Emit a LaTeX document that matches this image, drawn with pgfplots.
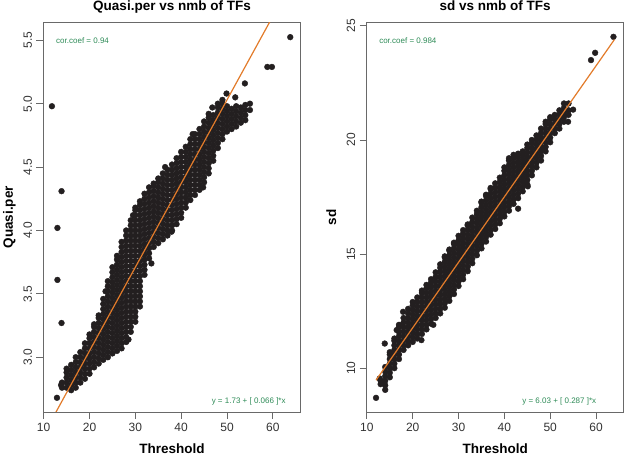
\documentclass[border=0pt]{standalone}
\usepackage{fontspec}
\setmainfont{Liberation Sans}
\usepackage{pgfplots}
\pgfplotsset{compat=1.18}
\definecolor{pt}{RGB}{35,31,32}
\definecolor{fit}{RGB}{226,123,42}
\definecolor{cc}{RGB}{46,139,87}
\definecolor{ax}{RGB}{105,105,105}
\pgfplotsset{rstyle/.style={
  scale only axis, width=257.4bp, height=389.3bp,
  axis line style={ax, line width=0.9bp},
  tick align=outside, major tick length=7bp, tick pos=left,
  every tick/.style={ax, line width=0.9bp},
  xtick={10,20,30,40,50,60},
  xticklabels={10,20,30,40,50,60},
  xmin=9.92, xmax=66.08,
  /pgf/number format/assume math mode=true,
  tick label style={font=\fontsize{12bp}{14bp}\selectfont, text=black!80},
  xticklabel style={anchor=north, inner sep=0pt, yshift=-3.8bp},
  yticklabel style={xshift=-4bp, rotate=90, anchor=south, inner sep=0pt},
  title style={font=\bfseries\fontsize{13.5bp}{16bp}\selectfont, at={(axis description cs:0.5,1)}, anchor=base, yshift=6bp},
  xlabel style={font=\bfseries\fontsize{13.5bp}{16bp}\selectfont, at={(axis description cs:0.5,0)}, anchor=base, yshift=-41.3bp},
  ylabel style={font=\bfseries\fontsize{13.5bp}{16bp}\selectfont, at={(axis description cs:-0.1184,0.5)}, anchor=base},
  clip marker paths=true,
}}
\begin{document}
\begin{tikzpicture}[x=1bp,y=1bp]
\useasboundingbox (0,0) rectangle (624,455);
\begin{axis}[rstyle, at={(43.3bp,43bp)}, anchor=south west,
  ymin=2.568, ymax=5.639,
  ytick={3,3.5,4,4.5,5,5.5}, yticklabels={3.0,3.5,4.0,4.5,5.0,5.5},
  title={Quasi.per vs nmb of TFs}, xlabel={Threshold}, ylabel={Quasi.per}]
\addplot[only marks, mark=*, mark size=2.9bp, color=pt] coordinates {
(11.8,4.98)(13.9,4.31)(13,4.02)(13,3.61)(13.9,3.27)(12.9,2.68)(13.8,2.78)
(14,2.76)(14,2.80)
(15,2.76)(15,2.80)(15,2.84)(15,2.88)(15,2.91)
(16,2.74)(16,2.78)(16,2.82)(16,2.86)(16,2.90)(16,2.94)
(17,2.76)(17,2.80)(17,2.84)(17,2.88)(17,2.92)(17,2.96)(17,3.00)
(18,2.80)(18,2.84)(18,2.88)(18,2.92)(18,2.96)(18,3.00)(18,3.04)
(19,2.83)(19,2.87)(19,2.91)(19,2.95)(19,2.99)(19,3.03)(19,3.07)(19,3.11)
(20,2.87)(20,2.91)(20,2.95)(20,2.99)(20,3.03)(20,3.07)(20,3.11)(20,3.15)(20,3.18)
(21,2.92)(21,2.96)(21,3.00)(21,3.04)(21,3.08)(21,3.12)(21,3.16)(21,3.20)(21,3.24)(21,3.26)
(22,2.95)(22,2.99)(22,3.03)(22,3.07)(22,3.11)(22,3.15)(22,3.19)(22,3.23)(22,3.27)(22,3.31)(22,3.33)
(23,2.98)(23,3.02)(23,3.06)(23,3.10)(23,3.14)(23,3.18)(23,3.22)(23,3.26)(23,3.30)(23,3.34)(23,3.38)(23,3.42)(23,3.46)
(24,3.00)(24,3.04)(24,3.08)(24,3.12)(24,3.16)(24,3.20)(24,3.24)(24,3.28)(24,3.32)(24,3.36)(24,3.40)(24,3.44)(24,3.48)(24,3.52)(24,3.56)(24,3.60)
(25,3.03)(25,3.07)(25,3.11)(25,3.15)(25,3.19)(25,3.23)(25,3.27)(25,3.31)(25,3.35)(25,3.39)(25,3.43)(25,3.47)(25,3.51)(25,3.55)(25,3.59)(25,3.63)(25,3.67)(25,3.71)
(26,3.05)(26,3.09)(26,3.13)(26,3.17)(26,3.21)(26,3.25)(26,3.29)(26,3.33)(26,3.37)(26,3.41)(26,3.45)(26,3.49)(26,3.53)(26,3.57)(26,3.61)(26,3.65)(26,3.69)(26,3.73)(26,3.77)(26,3.80)
(27,3.07)(27,3.11)(27,3.15)(27,3.19)(27,3.23)(27,3.27)(27,3.31)(27,3.35)(27,3.39)(27,3.43)(27,3.47)(27,3.51)(27,3.55)(27,3.59)(27,3.63)(27,3.67)(27,3.71)(27,3.75)(27,3.79)(27,3.83)(27,3.87)(27,3.91)
(28,3.12)(28,3.16)(28,3.20)(28,3.24)(28,3.28)(28,3.32)(28,3.36)(28,3.40)(28,3.44)(28,3.48)(28,3.52)(28,3.56)(28,3.60)(28,3.64)(28,3.68)(28,3.72)(28,3.76)(28,3.80)(28,3.84)(28,3.88)(28,3.92)(28,3.96)(28,4.00)
(29,3.20)(29,3.24)(29,3.28)(29,3.32)(29,3.36)(29,3.40)(29,3.44)(29,3.48)(29,3.52)(29,3.56)(29,3.60)(29,3.64)(29,3.68)(29,3.72)(29,3.76)(29,3.80)(29,3.84)(29,3.88)(29,3.92)(29,3.96)(29,4.00)(29,4.04)(29,4.08)
(30,3.28)(30,3.32)(30,3.36)(30,3.40)(30,3.44)(30,3.48)(30,3.52)(30,3.56)(30,3.60)(30,3.64)(30,3.68)(30,3.72)(30,3.76)(30,3.80)(30,3.84)(30,3.88)(30,3.92)(30,3.96)(30,4.00)(30,4.04)(30,4.08)(30,4.12)(30,4.16)(30,4.18)
(31,3.40)(31,3.44)(31,3.48)(31,3.52)(31,3.56)(31,3.60)(31,3.64)(31,3.68)(31,3.72)(31,3.76)(31,3.80)(31,3.84)(31,3.88)(31,3.92)(31,3.96)(31,4.00)(31,4.04)(31,4.08)(31,4.12)(31,4.16)(31,4.20)(31,4.23)
(32,3.65)(32,3.69)(32,3.73)(32,3.77)(32,3.81)(32,3.85)(32,3.89)(32,3.93)(32,3.97)(32,4.01)(32,4.05)(32,4.09)(32,4.13)(32,4.17)(32,4.21)(32,4.25)(32,4.29)
(33,3.78)(33,3.82)(33,3.86)(33,3.90)(33,3.94)(33,3.98)(33,4.02)(33,4.06)(33,4.10)(33,4.14)(33,4.18)(33,4.22)(33,4.26)(33,4.30)(33,4.34)
(34,3.87)(34,3.91)(34,3.95)(34,3.99)(34,4.03)(34,4.07)(34,4.11)(34,4.15)(34,4.19)(34,4.23)(34,4.27)(34,4.31)(34,4.35)(34,4.37)
(35,3.90)(35,3.94)(35,3.98)(35,4.02)(35,4.06)(35,4.10)(35,4.14)(35,4.18)(35,4.22)(35,4.26)(35,4.30)(35,4.34)(35,4.38)(35,4.41)
(36,3.93)(36,3.97)(36,4.01)(36,4.05)(36,4.09)(36,4.13)(36,4.17)(36,4.21)(36,4.25)(36,4.29)(36,4.33)(36,4.37)(36,4.41)(36,4.45)
(37,3.96)(37,4.00)(37,4.04)(37,4.08)(37,4.12)(37,4.16)(37,4.20)(37,4.24)(37,4.28)(37,4.32)(37,4.36)(37,4.40)(37,4.44)(37,4.48)
(38,4.00)(38,4.04)(38,4.08)(38,4.12)(38,4.16)(38,4.20)(38,4.24)(38,4.28)(38,4.32)(38,4.36)(38,4.40)(38,4.44)(38,4.48)(38,4.52)
(39,4.05)(39,4.09)(39,4.13)(39,4.17)(39,4.21)(39,4.25)(39,4.29)(39,4.33)(39,4.37)(39,4.41)(39,4.45)(39,4.49)(39,4.53)(39,4.57)
(40,4.10)(40,4.14)(40,4.18)(40,4.22)(40,4.26)(40,4.30)(40,4.34)(40,4.38)(40,4.42)(40,4.46)(40,4.50)(40,4.54)(40,4.58)(40,4.62)
(41,4.18)(41,4.22)(41,4.26)(41,4.30)(41,4.34)(41,4.38)(41,4.42)(41,4.46)(41,4.50)(41,4.54)(41,4.58)(41,4.62)(41,4.66)
(42,4.24)(42,4.28)(42,4.32)(42,4.36)(42,4.40)(42,4.44)(42,4.48)(42,4.52)(42,4.56)(42,4.60)(42,4.64)(42,4.68)(42,4.72)
(43,4.28)(43,4.32)(43,4.36)(43,4.40)(43,4.44)(43,4.48)(43,4.52)(43,4.56)(43,4.60)(43,4.64)(43,4.68)(43,4.72)(43,4.76)
(44,4.32)(44,4.36)(44,4.40)(44,4.44)(44,4.48)(44,4.52)(44,4.56)(44,4.60)(44,4.64)(44,4.68)(44,4.72)(44,4.76)(44,4.80)
(45,4.38)(45,4.42)(45,4.46)(45,4.50)(45,4.54)(45,4.58)(45,4.62)(45,4.66)(45,4.70)(45,4.74)(45,4.78)(45,4.82)(45,4.86)
(46,4.45)(46,4.49)(46,4.53)(46,4.57)(46,4.61)(46,4.65)(46,4.69)(46,4.73)(46,4.77)(46,4.81)(46,4.85)(46,4.89)(46,4.92)
(47,4.55)(47,4.59)(47,4.63)(47,4.67)(47,4.71)(47,4.75)(47,4.79)(47,4.83)(47,4.87)(47,4.91)(46.8,4.97)
(48,4.65)(48,4.69)(48,4.73)(48,4.77)(48,4.81)(48,4.85)(48,4.89)(48,4.93)(48,4.97)(48,5.00)
(49,4.72)(49,4.76)(49,4.80)(49,4.84)(49,4.88)(49,4.92)(49,4.96)(49,5.00)(49,5.03)
(50,4.78)(50,4.82)(50,4.86)(50,4.90)(50,4.94)(50,4.98)(49.9,5.08)
(51,4.80)(51,4.84)(51,4.88)(51,4.92)(51,4.96)
(52,4.82)(52,4.86)(52,4.90)(52,4.94)(52,4.98)(51.8,5.05)
(53,4.85)(53,4.89)(53,4.93)(53,4.97)
(54,4.87)(54,4.91)(54,4.95)(54,4.99)(53.9,5.16)
(55,4.95)(55,5.00)
(58.8,5.29)(59.8,5.29)(63.8,5.525)
(23.5,3.52)(28.5,3.14)(33.5,3.74)(29.5,4.12)(37.9,3.99)(44.8,4.34)(42.5,4.76)(36.5,4.50)
};
\addplot[fit, line width=1.2bp] coordinates {(12,2.522) (64,5.954)};
\node[anchor=west, text=cc, font=\fontsize{8bp}{10bp}\selectfont] at (rel axis cs:0.0365,0.955) {cor.coef = 0.94};
\node[anchor=east, text=cc, font=\fontsize{8bp}{10bp}\selectfont] at (rel axis cs:0.955,0.026) {y = 1.73 + [ 0.066 ]*x};
\end{axis}
\begin{axis}[rstyle, at={(366.5bp,43bp)}, anchor=south west,
  ymin=8.08, ymax=25.14,
  ytick={10,15,20,25}, yticklabels={10,15,20,25},
  title={sd vs nmb of TFs}, xlabel={Threshold}, ylabel={sd}]
\addplot[only marks, mark=*, mark size=2.9bp, color=pt] coordinates {
(12,8.70)(12.8,9.55)(13.9,11.08)(13,9.30)(13,9.45)
(14,9.05)(14,9.25)(14,9.45)(14,9.65)(14,9.85)(14,10.05)
(15,9.60)(15,9.80)(15,10.00)(15,10.20)(15,10.40)(15,10.60)(15,10.70)
(16,10.00)(16,10.20)(16,10.40)(16,10.60)(16,10.80)(16,11.00)(16,11.20)(16,11.30)
(17,10.40)(17,10.60)(17,10.80)(17,11.00)(17,11.20)(17,11.40)(17,11.60)(17,11.80)(17,11.90)
(18,10.80)(18,11.00)(18,11.20)(18,11.40)(18,11.60)(18,11.80)(18,12.00)(18,12.20)(17.9,12.47)
(19,11.00)(19,11.20)(19,11.40)(19,11.60)(19,11.80)(19,12.00)(19,12.20)(19,12.40)(19,12.60)
(20,11.15)(20,11.35)(20,11.55)(20,11.75)(20,11.95)(20,12.15)(20,12.35)(20,12.55)(20,12.75)(20,12.90)
(21,11.30)(21,11.50)(21,11.70)(21,11.90)(21,12.10)(21,12.30)(21,12.50)(21,12.70)(21,12.90)(21,13.10)(21.9,11.23)
(22,11.50)(22,11.70)(22,11.90)(22,12.10)(22,12.30)(22,12.50)(22,12.70)(22,12.90)(22,13.10)(22,13.30)(22,13.40)
(23,11.70)(23,11.90)(23,12.10)(23,12.30)(23,12.50)(23,12.70)(23,12.90)(23,13.10)(23,13.30)(23,13.50)(23,13.65)
(24,11.95)(24,12.15)(24,12.35)(24,12.55)(24,12.75)(24,12.95)(24,13.15)(24,13.35)(24,13.55)(24,13.75)(24,13.90)
(25,12.20)(25,12.40)(25,12.60)(25,12.80)(25,13.00)(25,13.20)(25,13.40)(25,13.60)(25,13.80)(25,14.00)(25,14.20)
(26,12.40)(26,12.60)(26,12.80)(26,13.00)(26,13.20)(26,13.40)(26,13.60)(26,13.80)(26,14.00)(26,14.20)(26,14.40)(26,14.55)
(27,12.65)(27,12.85)(27,13.05)(27,13.25)(27,13.45)(27,13.65)(27,13.85)(27,14.05)(27,14.25)(27,14.45)(27,14.65)(27,14.85)(27,14.90)
(28,12.95)(28,13.15)(28,13.35)(28,13.55)(28,13.75)(28,13.95)(28,14.15)(28,14.35)(28,14.55)(28,14.75)(28,14.95)(28,15.15)(28,15.20)
(29,13.25)(29,13.45)(29,13.65)(29,13.85)(29,14.05)(29,14.25)(29,14.45)(29,14.65)(29,14.85)(29,15.05)(29,15.25)(29,15.45)(29,15.50)
(30,13.60)(30,13.80)(30,14.00)(30,14.20)(30,14.40)(30,14.60)(30,14.80)(30,15.00)(30,15.20)(30,15.40)(30,15.60)(30,15.80)
(31,13.90)(31,14.10)(31,14.30)(31,14.50)(31,14.70)(31,14.90)(31,15.10)(31,15.30)(31,15.50)(31,15.70)(31,15.90)(31,16.05)
(32,14.25)(32,14.45)(32,14.65)(32,14.85)(32,15.05)(32,15.25)(32,15.45)(32,15.65)(32,15.85)(32,16.05)(32,16.25)(32,16.30)
(33,14.60)(33,14.80)(33,15.00)(33,15.20)(33,15.40)(33,15.60)(33,15.80)(33,16.00)(33,16.20)(33,16.40)(33,16.60)
(34,14.95)(34,15.15)(34,15.35)(34,15.55)(34,15.75)(34,15.95)(34,16.15)(34,16.35)(34,16.55)(34,16.75)(34,16.90)
(35,15.25)(35,15.45)(35,15.65)(35,15.85)(35,16.05)(35,16.25)(35,16.45)(35,16.65)(35,16.85)(35,17.05)(35,17.25)(35,17.30)
(36,15.55)(36,15.75)(36,15.95)(36,16.15)(36,16.35)(36,16.55)(36,16.75)(36,16.95)(36,17.15)(36,17.35)(36,17.55)(36,17.60)
(37,15.85)(37,16.05)(37,16.25)(37,16.45)(37,16.65)(37,16.85)(37,17.05)(37,17.25)(37,17.45)(37,17.65)(37,17.85)(37,17.90)
(38,16.10)(38,16.30)(38,16.50)(38,16.70)(38,16.90)(38,17.10)(38,17.30)(38,17.50)(38,17.70)(38,17.90)(38,18.10)
(39,16.35)(39,16.55)(39,16.75)(39,16.95)(39,17.15)(39,17.35)(39,17.55)(39,17.75)(39,17.95)(39,18.15)(39,18.35)
(40,16.65)(40,16.85)(40,17.05)(40,17.25)(40,17.45)(40,17.65)(40,17.85)(40,18.05)(40,18.25)(40,18.45)(40,18.65)(40,18.80)
(41,16.90)(41,17.10)(41,17.30)(41,17.50)(41,17.70)(41,17.90)(41,18.10)(41,18.30)(41,18.50)(41,18.70)(41,18.90)(41,19.10)(41,19.20)
(42,17.20)(42,17.40)(42,17.60)(42,17.80)(42,18.00)(42,18.20)(42,18.40)(42,18.60)(42,18.80)(42,19.00)(42,19.20)(42,19.35)
(43,17.45)(43,17.65)(43,17.85)(43,18.05)(43,18.25)(43,18.45)(43,18.65)(43,18.85)(43,19.05)(43,19.25)(43,19.40)
(44,17.75)(44,17.95)(44,18.15)(44,18.35)(44,18.55)(44,18.75)(44,18.95)(44,19.15)(44,19.35)(44,19.50)
(45,18.05)(45,18.25)(45,18.45)(45,18.65)(45,18.85)(45,19.05)(45,19.25)(45,19.45)(45,19.65)(45,19.80)
(46,18.45)(46,18.65)(46,18.85)(46,19.05)(46,19.25)(46,19.45)(46,19.65)(46,19.85)(46,20.00)
(47,18.80)(47,19.00)(47,19.20)(47,19.40)(47,19.60)(47,19.80)(47,20.00)(47,20.20)
(48,19.10)(48,19.30)(48,19.50)(48,19.70)(48,19.90)(48,20.10)(48,20.30)(48,20.50)
(49,19.50)(49,19.70)(49,19.90)(49,20.10)(49,20.30)(49,20.50)(49,20.70)(49,20.80)
(50,19.90)(50,20.10)(50,20.30)(50,20.50)(50,20.70)(50,20.90)(50,21.00)
(51,20.30)(51,20.50)(51,20.70)(51,20.90)(51,21.10)
(52,20.50)(52,20.70)(52,20.90)(52,21.10)(52,21.30)
(53,20.80)(53,21.00)(53,21.20)(53,21.40)(53,21.60)
(54,21.10)(54,21.30)(54,21.60)(55,21.33)
(58.9,23.50)(59.8,23.82)(63.8,24.52)
(43,16.99)(45.1,17.97)(48.9,19.66)(53.9,20.80)(24.5,11.90)(16.5,11.67)
};
\addplot[fit, line width=1.2bp] coordinates {(12,9.474) (64,24.398)};
\node[anchor=west, text=cc, font=\fontsize{8bp}{10bp}\selectfont] at (rel axis cs:0.036,0.955) {cor.coef = 0.984};
\node[anchor=east, text=cc, font=\fontsize{8bp}{10bp}\selectfont] at (rel axis cs:0.906,0.026) {y = 6.03 + [ 0.287 ]*x};
\end{axis}
\end{tikzpicture}
\end{document}
